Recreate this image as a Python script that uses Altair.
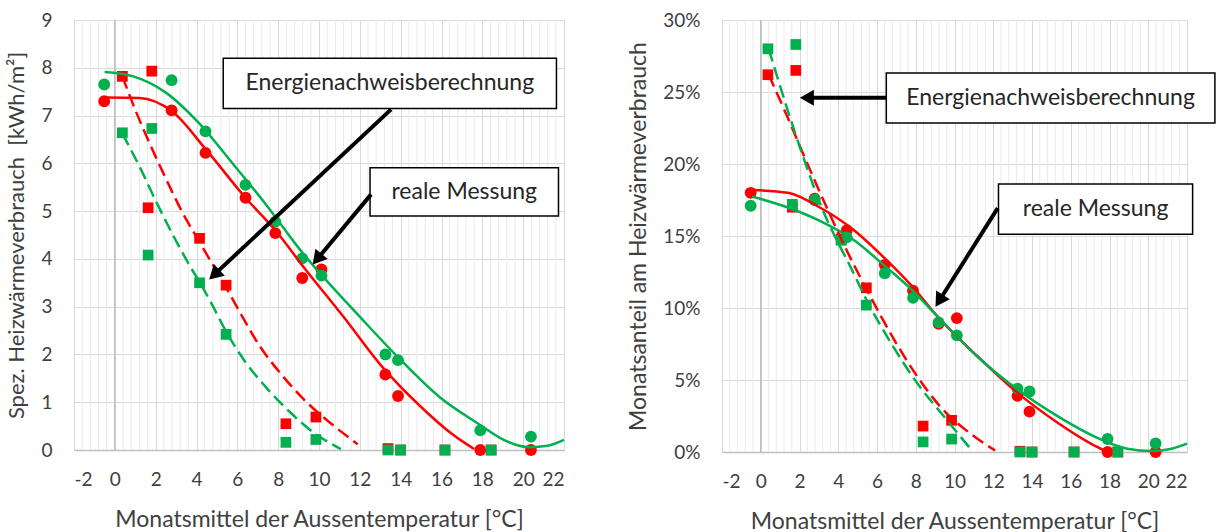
import math
import altair as alt
import pandas as pd

FONT = "Lato"
RED = "#FF0000"
GREEN = "#00B050"
TXT = "#404040"

# ---------------- data ----------------
# squares: Energienachweisberechnung (calculated), circles: reale Messung (measured)
sq_T = [0.37, 1.63, 1.81, 4.15, 5.45, 8.38, 9.85, 13.38, 14.0, 16.17, 18.43]
sq_red_kwh = [7.82, 5.07, 7.93, 4.43, 3.45, 0.55, 0.69, 0.03, 0, 0, 0]
sq_green_kwh = [6.64, 4.08, 6.73, 3.50, 2.42, 0.16, 0.22, 0, 0, 0, 0]
sq_red_pct = [26.2, 17.0, 26.5, 14.8, 11.4, 1.8, 2.2, 0.05, 0, 0, 0]
sq_green_pct = [28.0, 17.2, 28.3, 14.7, 10.2, 0.7, 0.9, 0, 0, 0, 0]

ci_T = [-0.52, 2.78, 4.44, 6.40, 7.86, 9.18, 10.12, 13.25, 13.87, 17.90, 20.38]
ci_red_kwh = [7.30, 7.11, 6.22, 5.28, 4.54, 3.60, 3.78, 1.58, 1.13, 0, 0]
ci_green_kwh = [7.65, 7.74, 6.67, 5.55, 4.78, 4.01, 3.65, 2.00, 1.88, 0.41, 0.28]
ci_red_pct = [18.0, 17.6, 15.4, 13.0, 11.2, 8.9, 9.3, 3.9, 2.8, 0, 0]
ci_green_pct = [17.1, 17.5, 14.9, 12.4, 10.7, 9.0, 8.1, 4.4, 4.2, 0.9, 0.6]

# trend lines
tr_red_solid_kwh_T = [-0.5, 1.2, 2.8, 4.5, 6.4, 7.9, 9.3, 11.2, 13.1, 15.0, 16.5, 17.6]
tr_red_solid_kwh = [7.38, 7.37, 7.09, 6.27, 5.28, 4.58, 3.80, 2.79, 1.74, 0.90, 0.34, 0.02]
tr_green_solid_kwh_T = [-0.5, 0.9, 2.5, 4.1, 5.8, 7.4, 9.0, 12.15, 13.85, 15.9, 17.8, 19.1, 20.3, 21.2, 22.0]
tr_green_solid_kwh = [7.91, 7.82, 7.48, 6.85, 5.98, 5.14, 4.23, 2.72, 1.95, 1.11, 0.55, 0.20, 0.06, 0.09, 0.21]
tr_red_dash_kwh_T = [0.37, 1.0, 1.7, 2.5, 3.3, 4.15, 5.45, 6.3, 7.06, 8.2, 9.3, 10.6, 11.9]
tr_red_dash_kwh = [7.82, 7.12, 6.42, 5.68, 4.98, 4.35, 3.40, 2.75, 2.20, 1.56, 1.04, 0.55, 0.12]
tr_green_dash_kwh_T = [0.37, 1.19, 2.0, 2.82, 3.64, 4.17, 4.79, 5.45, 6.3, 7.43, 8.56, 9.88, 10.64, 11.07]
tr_green_dash_kwh = [6.62, 5.95, 5.22, 4.52, 3.88, 3.50, 3.02, 2.48, 1.90, 1.30, 0.80, 0.32, 0.12, 0.02]

tr_red_solid_pct_T = [-0.45, 1.4, 3.05, 4.75, 6.46, 7.88, 9.13, 11.2, 13.29, 15.38, 17.04, 17.88]
tr_red_solid_pct = [18.2, 18.0, 16.98, 15.47, 13.37, 11.4, 9.4, 6.63, 4.07, 1.98, 0.58, 0.0]
tr_green_solid_pct_T = [-0.45, 1.4, 3.05, 4.75, 6.42, 7.88, 9.13, 11.2, 13.29, 15.38, 17.46, 18.92, 20.17, 21.2, 22.0]
tr_green_solid_pct = [17.74, 16.98, 16.05, 14.77, 12.9, 11.16, 9.4, 6.6, 4.3, 2.44, 0.93, 0.23, 0.07, 0.23, 0.58]
tr_red_dash_pct_T = [0.41, 1.3, 2.0, 2.8, 3.6, 4.4, 5.5, 6.8, 8.1, 9.3, 10.8, 12.1]
tr_red_dash_pct = [26.2, 23.5, 21.3, 18.8, 16.4, 14.1, 11.2, 8.0, 5.2, 3.1, 1.3, 0.1]
tr_green_dash_pct_T = [0.41, 1.31, 2.23, 3.05, 4.08, 4.44, 5.54, 6.83, 8.08, 9.33, 10.9]
tr_green_dash_pct = [28.0, 24.07, 20.35, 17.3, 14.3, 13.37, 10.35, 7.33, 4.77, 2.67, 0.1]

# annotations (data units)
ann_text = ["Energienachweisberechnung", "reale Messung"]
left_box_x1 = [5.31, 12.5]
left_box_x2 = [21.63, 21.73]
left_box_y1 = [8.2, 5.91]
left_box_y2 = [7.15, 4.9]
left_arrow_from = [(13.53, 7.13), (12.55, 5.35)]
left_arrow_to = [(4.62, 3.57), (9.69, 3.88)]
right_box_x1 = [6.48, 12.27]
right_box_x2 = [23.44, 22.29]
right_box_y1 = [26.32, 18.61]
right_box_y2 = [22.85, 15.12]
right_arrow_from = [(6.48, 24.6), (12.23, 16.94)]
right_arrow_to = [(2.02, 24.6), (9.02, 10.09)]

x_ticks = list(range(-2, 23, 2))
minor_ticks = [round(-2 + 0.4 * k, 1) for k in range(61) if k % 5 != 0]
XTITLE = "Monatsmittel der Aussentemperatur [°C]"


def panel(width, height, ymax, ystep, ytitle, ytitle_size, pct,
          sq_r, sq_g, ci_r, ci_g, curves, bx1, bx2, by1, by2, afrom, ato):
    xax = alt.Axis(values=x_ticks, title=XTITLE, grid=True, gridColor="#d9d9d9",
                   domain=True, domainColor="#bfbfbf", domainWidth=1.5,
                   labelExpr="'' + datum.value",
                   ticks=False, tickSize=0, labelPadding=20, titlePadding=19)
    yvals = list(range(0, ymax + 1, ystep))
    yax_kw = dict(values=yvals, title=ytitle, grid=True, gridColor="#d9d9d9",
                  domain=False, ticks=False, tickSize=0, labelPadding=22, titlePadding=12,
                  titleFontSize=ytitle_size)
    if pct:
        yax_kw["labelExpr"] = "datum.value + '%'"
    else:
        yax_kw["labelExpr"] = "'' + datum.value"
    yax = alt.Axis(**yax_kw)

    def X(f="x"):
        return alt.X(f"{f}:Q", scale=alt.Scale(domain=[-2, 22], nice=False, zero=False), axis=xax)

    def Y(f="y"):
        return alt.Y(f"{f}:Q", scale=alt.Scale(domain=[0, ymax], nice=False), axis=yax)

    cscale = alt.Scale(domain=["red", "green"], range=[RED, GREEN])

    minor = alt.Chart(pd.DataFrame({"x": minor_ticks})).mark_rule(
        color="#eaeaea", strokeWidth=1).encode(x=X())
    zero = alt.Chart(pd.DataFrame({"x": [0]})).mark_rule(
        color="#bfbfbf", strokeWidth=1.5).encode(x=X())

    rows = []
    for shape, xs, ys, col in [("square", sq_T, sq_r, "red"), ("circle", ci_T, ci_r, "red"),
                               ("square", sq_T, sq_g, "green"), ("circle", ci_T, ci_g, "green")]:
        for a, b in zip(xs, ys):
            rows.append({"x": a, "y": b, "c": col, "shape": shape, "o": len(rows)})
    pts = pd.DataFrame(rows)
    points = alt.Chart(pts).mark_point(filled=True, opacity=1).encode(
        x=X(), y=Y(),
        color=alt.Color("c:N", scale=cscale, legend=None),
        shape=alt.Shape("shape:N", scale=alt.Scale(domain=["square", "circle"], range=["square", "circle"]), legend=None),
        size=alt.Size("shape:N", scale=alt.Scale(domain=["square", "circle"], range=[115, 140]), legend=None),
        order=alt.Order("o:Q"),
    )

    line_layers = []
    for (xs, ys, col, dashed) in curves:
        df = pd.DataFrame({"x": xs, "y": ys})
        kw = dict(interpolate="monotone", strokeWidth=2.5, color=RED if col == "red" else GREEN)
        if dashed:
            kw["strokeDash"] = [13, 6]
        line_layers.append(alt.Chart(df).mark_line(**kw).encode(x=X(), y=Y()))

    boxes = pd.DataFrame({"x": bx1, "x2": bx2, "y": by1, "y2": by2, "t": ann_text})
    boxes["xm"] = (boxes["x"] + boxes["x2"]) / 2
    boxes["ym"] = (boxes["y"] + boxes["y2"]) / 2
    rects = alt.Chart(boxes).mark_rect(fill="white", stroke="black", strokeWidth=1.5).encode(
        x=X(), x2="x2:Q", y=Y(), y2="y2:Q")
    texts = alt.Chart(boxes).mark_text(font=FONT, fontSize=23, color="#262626").encode(
        x=X("xm"), y=Y("ym"), text="t:N")

    kx = width / 24.0
    ky = height / float(ymax)
    h = 7.0  # half length of arrowhead in px
    arows = []
    for (x0, y0), (x1, y1) in zip(afrom, ato):
        sdx = (x1 - x0) * kx
        sdy = -(y1 - y0) * ky
        L = math.hypot(sdx, sdy)
        hx = x1 - (sdx / L) * h / kx
        hy = y1 + (sdy / L) * h / ky
        ang = math.degrees(math.atan2(sdx, -sdy)) % 360
        arows.append({"x": x0, "y": y0, "x2": hx, "y2": hy, "hx": hx, "hy": hy, "ang": ang})
    adf = pd.DataFrame(arows)
    alines = alt.Chart(adf).mark_rule(color="black", strokeWidth=4).encode(
        x=X(), y=Y(), x2="x2:Q", y2="y2:Q")
    aheads = alt.Chart(adf).mark_point(shape="triangle-up", filled=True, opacity=1,
                                       color="black", size=260).encode(
        x=X("hx"), y=Y("hy"), angle=alt.Angle("ang:Q", scale=None))

    return alt.layer(minor, zero, points, *line_layers, rects, texts, alines, aheads).properties(
        width=width, height=height)


left = panel(
    490, 430, 9, 1, "Spez. Heizwärmeverbrauch\u00a0 [kWh/m²]", 22, False,
    sq_red_kwh, sq_green_kwh, ci_red_kwh, ci_green_kwh,
    [(tr_red_solid_kwh_T, tr_red_solid_kwh, "red", False),
     (tr_green_solid_kwh_T, tr_green_solid_kwh, "green", False),
     (tr_red_dash_kwh_T, tr_red_dash_kwh, "red", True),
     (tr_green_dash_kwh_T, tr_green_dash_kwh, "green", True)],
    left_box_x1, left_box_x2, left_box_y1, left_box_y2, left_arrow_from, left_arrow_to)

right = panel(
    465, 432, 30, 5, "Monatsanteil am Heizwärmeverbrauch", 23, True,
    sq_red_pct, sq_green_pct, ci_red_pct, ci_green_pct,
    [(tr_red_solid_pct_T, tr_red_solid_pct, "red", False),
     (tr_green_solid_pct_T, tr_green_solid_pct, "green", False),
     (tr_red_dash_pct_T, tr_red_dash_pct, "red", True),
     (tr_green_dash_pct_T, tr_green_dash_pct, "green", True)],
    right_box_x1, right_box_x2, right_box_y1, right_box_y2, right_arrow_from, right_arrow_to)

chart = alt.hconcat(left, right, spacing=58).properties(
    padding={"left": 5, "top": 11, "right": 0, "bottom": 0},
    background="white",
).configure_view(stroke=None).configure_axis(
    labelFont=FONT, labelFontSize=19, labelColor=TXT,
    titleFont=FONT, titleFontSize=23, titleFontWeight="normal", titleColor=TXT,
)

chart.save("out.html", embed_options={"renderer": "svg", "actions": False})
